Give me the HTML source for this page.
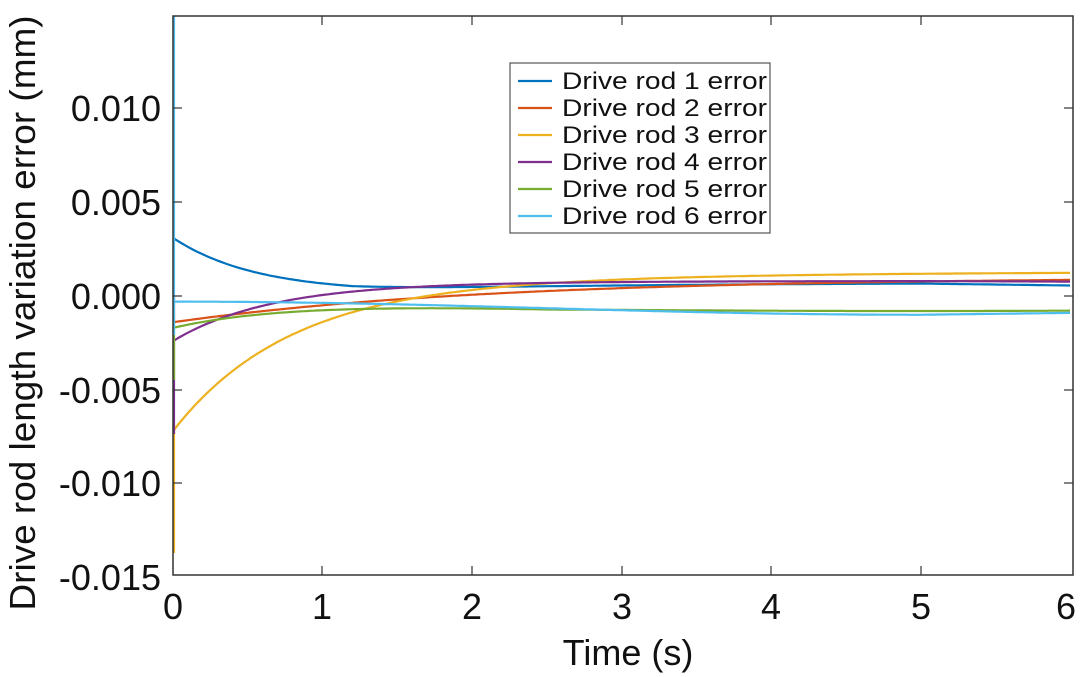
<!DOCTYPE html>
<html><head><meta charset="utf-8"><style>
body{margin:0;background:#fff;}
svg{display:block;font-family:"Liberation Sans",Arial,sans-serif;}
</style></head><body>
<svg id="s" width="1080" height="677" xmlns="http://www.w3.org/2000/svg">
<rect width="1080" height="677" fill="#fff"/>
<g id="curves" fill="none" stroke-width="2.2"></g>
<rect x="173" y="16" width="900" height="559" fill="none" stroke="#333" stroke-width="1.5"/>
<g stroke="#333" stroke-width="1.2">
<line x1="322" y1="575" x2="322" y2="566"/><line x1="472" y1="575" x2="472" y2="566"/><line x1="622" y1="575" x2="622" y2="566"/><line x1="771" y1="575" x2="771" y2="566"/><line x1="921" y1="575" x2="921" y2="566"/>
<line x1="322" y1="16" x2="322" y2="25"/><line x1="472" y1="16" x2="472" y2="25"/><line x1="622" y1="16" x2="622" y2="25"/><line x1="771" y1="16" x2="771" y2="25"/><line x1="921" y1="16" x2="921" y2="25"/>
<line x1="173" y1="108" x2="182" y2="108"/><line x1="173" y1="202" x2="182" y2="202"/><line x1="173" y1="296" x2="182" y2="296"/><line x1="173" y1="390" x2="182" y2="390"/><line x1="173" y1="483" x2="182" y2="483"/>
<line x1="1073" y1="108" x2="1064" y2="108"/><line x1="1073" y1="202" x2="1064" y2="202"/><line x1="1073" y1="296" x2="1064" y2="296"/><line x1="1073" y1="390" x2="1064" y2="390"/><line x1="1073" y1="483" x2="1064" y2="483"/>
</g>
<g font-size="36" fill="#111" text-anchor="end">
<text x="161" y="121">0.010</text><text x="161" y="215">0.005</text><text x="161" y="309">0.000</text><text x="161" y="403">-0.005</text><text x="161" y="496">-0.010</text><text x="161" y="590">-0.015</text>
</g>
<g font-size="36" fill="#111" text-anchor="middle">
<text x="173" y="619">0</text><text x="322" y="619">1</text><text x="472" y="619">2</text><text x="622" y="619">3</text><text x="771" y="619">4</text><text x="921" y="619">5</text><text x="1066" y="619">6</text>
<text x="628" y="665">Time (s)</text>
<text transform="translate(35,313) rotate(-90)" textLength="595" lengthAdjust="spacingAndGlyphs">Drive rod length variation error (mm)</text>
</g>
<rect x="510" y="63" width="260" height="170" fill="#fff" stroke="#333" stroke-width="1"/>
<g id="leg" font-size="24" fill="#111"></g>
</svg>
<script>
var X=t=>173+t*149.5, Y=v=>296-v*18760;
var E=Math.exp;
var fs=[
["#0072BD",t=>0.0029*E(-t/0.55)+0.0002+0.0005*Math.max(0,1-E(-(t-1.2)/1.5))-0.00012*Math.max(0,t-5)],
["#D95319",t=>-0.0014*E(-t/2.2)+0.001*(1-E(-t/2))],
["#EDB120",t=>-0.0072*E(-t/0.75)+0.0013*(1-E(-t/2))],
["#7E2F8E",t=>-0.0024*E(-t/0.6)+0.0008*(1-E(-t/1))-0.00003*Math.max(0,t-5)],
["#77AC30",t=>-0.0013*E(-t/0.7)-0.0004-0.0004*Math.sin(Math.PI*Math.min(t,6)/10)*Math.min(1,t/2.5)],
["#4DBEEE",t=>-0.0003-0.0007*(0.5-0.5*Math.cos(Math.PI*Math.min(t,5)/5))+0.0001*Math.max(0,t-5)]
];
var g=document.getElementById('curves'),ns="http://www.w3.org/2000/svg",lg=document.getElementById('leg');
var spikes=[[0,238,238],[1,296,322],[2,430,553],[3,340,434],[4,318,380],[5,16,335]];
fs.forEach((f,i)=>{var d="";for(var k=0;k<=300;k++){var t=k/50;d+=(k?"L":"M")+X(t).toFixed(1)+" "+Y(f[1](t)).toFixed(1);}
var p=document.createElementNS(ns,"path");p.setAttribute("d",d);p.setAttribute("stroke",f[0]);g.appendChild(p);
var sp=spikes[i];var l=document.createElementNS(ns,"line");l.setAttribute("x1",174);l.setAttribute("x2",174);l.setAttribute("y1",sp[1]);l.setAttribute("y2",sp[2]);l.setAttribute("stroke",f[0]);g.appendChild(l);
var y=81+i*27;var ll=document.createElementNS(ns,"line");ll.setAttribute("x1",518);ll.setAttribute("x2",552);ll.setAttribute("y1",y);ll.setAttribute("y2",y);ll.setAttribute("stroke",f[0]);ll.setAttribute("stroke-width",2.2);lg.appendChild(ll);
var tx=document.createElementNS(ns,"text");tx.setAttribute("x",562);tx.setAttribute("y",y+8);tx.setAttribute("textLength",205);tx.setAttribute("lengthAdjust","spacingAndGlyphs");tx.textContent="Drive rod "+(i+1)+" error";lg.appendChild(tx);});
</script>
</body></html>
